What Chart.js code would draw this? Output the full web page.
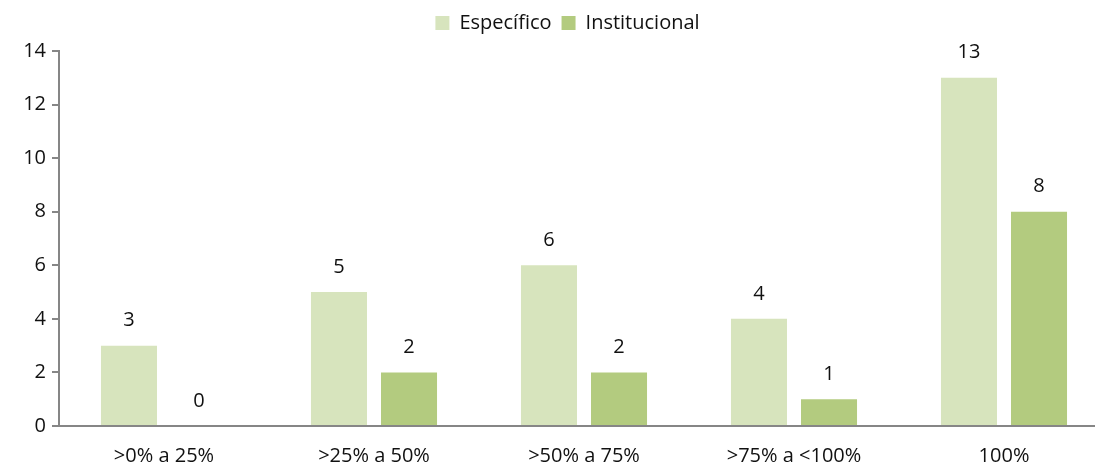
<!DOCTYPE html>
<html>
<head>
<meta charset="utf-8">
<script src="https://cdn.jsdelivr.net/npm/chart.js@4.4.0/dist/chart.umd.min.js"></script>
<style>
  html, body { margin: 0; padding: 0; background: #fff; overflow: hidden; }
  #wrap { width: 1142px; height: 464px; position: relative; }
</style>
</head>
<body>
<div id="wrap"><canvas id="chart"></canvas></div>
<script>
const categories = [">0% a 25%", ">25% a 50%", ">50% a 75%", ">75% a <100%", "100%"];
const especifico = [3, 5, 6, 4, 13];
const institucional = [0, 2, 2, 1, 8];
const yTicks = [0, 2, 4, 6, 8, 10, 12, 14];

const FONT = "'Open Sans', 'Noto Sans', sans-serif";
const FSIZE = 20;

// draws value labels above each bar
const barLabels = {
  id: "barLabels",
  afterDatasetsDraw(chart) {
    const ctx = chart.ctx;
    ctx.save();
    ctx.font = FSIZE + "px " + FONT;
    ctx.fillStyle = "#111";
    ctx.textAlign = "center";
    ctx.textBaseline = "middle";
    chart.data.datasets.forEach((ds, i) => {
      chart.getDatasetMeta(i).data.forEach((bar, j) => {
        ctx.fillText(String(ds.data[j]), bar.x, bar.y - 25);
      });
    });
    ctx.restore();
  }
};

// more room under the legend, and legend nudged right
const legendTweak = {
  id: "legendTweak",
  beforeInit(chart) {
    const lg = chart.legend;
    const fit = lg.fit;
    lg.fit = function () {
      fit.call(this);
      this.height += 8;
    };
    const draw = lg.draw;
    lg.draw = function () {
      this.ctx.save();
      this.ctx.translate(13, 0);
      draw.call(this);
      this.ctx.restore();
    };
  }
};

new Chart(document.getElementById("chart"), {
  type: "bar",
  data: {
    labels: categories,
    datasets: [
      { label: "Específico", data: especifico, backgroundColor: "#d7e4bd" },
      { label: "Institucional", data: institucional, backgroundColor: "#b3cb7f" }
    ]
  },
  options: {
    responsive: true,
    maintainAspectRatio: false,
    animation: false,
    datasets: { bar: { barPercentage: 0.8, categoryPercentage: 0.667 } },
    layout: { padding: { left: 0, right: 33, top: 3, bottom: 0 } },
    plugins: {
      legend: {
        position: "top",
        labels: {
          boxWidth: 14, boxHeight: 14, padding: 10,
          color: "#111",
          font: { family: FONT, size: FSIZE }
        }
      },
      tooltip: { enabled: false }
    },
    scales: {
      x: {
        grid: { display: false },
        border: { color: "#868686", width: 2 },
        ticks: { color: "#111", font: { family: FONT, size: FSIZE }, padding: 10 },
        afterFit: (axis) => { axis.height = 38; }
      },
      y: {
        min: 0, max: 14,
        afterBuildTicks: (axis) => { axis.ticks = yTicks.map(v => ({ value: v })); },
        grid: { drawOnChartArea: false, tickLength: 7, color: "#868686", lineWidth: 2 },
        border: { color: "#868686", width: 2 },
        ticks: { color: "#111", font: { family: FONT, size: FSIZE }, padding: 6 },
        afterFit: (axis) => { axis.width = 59; }
      }
    }
  },
  plugins: [barLabels, legendTweak]
});
</script>
</body>
</html>
